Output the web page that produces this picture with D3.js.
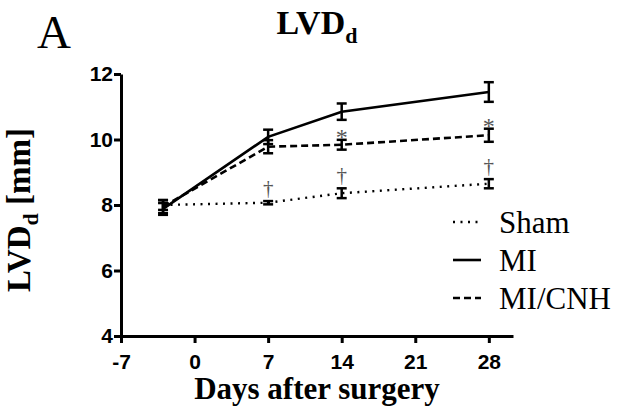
<!DOCTYPE html>
<html>
<head>
<meta charset="utf-8">
<script src="https://cdn.jsdelivr.net/npm/d3@7"></script>
<style>
  body { margin: 0; background: #fff; }
  .axis path, .axis line { stroke: #000; stroke-width: 3px; }
  .axis text { font-family: "Liberation Sans", Arial, sans-serif; font-weight: bold; font-size: 21px; fill: #000; }
</style>
</head>
<body>
<div id="chart-area"></div>
<script>
const days = [-3, 7, 14, 28];
const xTicks = [-7, 0, 7, 14, 21, 28];
const yTicks = [4, 6, 8, 10, 12];

const shamMean = [8.0, 8.07, 8.36, 8.65];
const shamErr = [0.15, 0.05, 0.15, 0.14];
const miMean = [7.88, 10.08, 10.85, 11.45];
const miErr = [0.18, 0.22, 0.25, 0.3];
const cnhMean = [7.95, 9.78, 9.84, 10.13];
const cnhErr = [0.2, 0.2, 0.15, 0.2];

const starDays = [14, 28];
const daggerDays = [7, 14, 28];

const series = [
  { name: "Sham", mean: shamMean, err: shamErr, dash: "2,5.5", width: 2.4 },
  { name: "MI", mean: miMean, err: miErr, dash: null, width: 2.6 },
  { name: "MI/CNH", mean: cnhMean, err: cnhErr, dash: "7,4", width: 2.6 }
];

const svg = d3
  .select("#chart-area")
  .append("svg")
  .attr("width", 618)
  .attr("height", 419);

const x = d3.scaleLinear().domain([-7, 30.3]).range([121, 513]);
const y = d3.scaleLinear().domain([4, 12]).range([336, 74]);

const serif = "'Liberation Serif', 'Times New Roman', serif";

// panel letter + title
svg.append("text")
  .attr("x", 37).attr("y", 48)
  .style("font-family", serif).style("font-size", "47px")
  .text("A");

const title = svg.append("text")
  .attr("x", 317).attr("y", 34)
  .attr("text-anchor", "middle")
  .style("font-family", serif).style("font-size", "34px").style("font-weight", "bold");
title.append("tspan").text("LVD");
title.append("tspan").attr("dy", 9).style("font-size", "22px").text("d");

// axes
svg.append("g")
  .attr("class", "axis")
  .attr("transform", "translate(0,336)")
  .call(d3.axisBottom(x).tickValues(xTicks).tickFormat(d => String(d))
    .tickSizeInner(7).tickSizeOuter(0).tickPadding(11));

svg.append("g")
  .attr("class", "axis")
  .attr("transform", "translate(121,0)")
  .call(d3.axisLeft(y).tickValues(yTicks).tickFormat(d => String(d))
    .tickSizeInner(7).tickSizeOuter(0).tickPadding(1));

// axis labels
svg.append("text")
  .attr("x", 317).attr("y", 399)
  .attr("text-anchor", "middle")
  .style("font-family", serif).style("font-size", "31px").style("font-weight", "bold")
  .text("Days after surgery");

const yl = svg.append("text")
  .attr("transform", "translate(30,210) rotate(-90)")
  .attr("text-anchor", "middle")
  .style("font-family", serif).style("font-size", "33px").style("font-weight", "bold");
yl.append("tspan").text("LVD");
yl.append("tspan").attr("dy", 8).style("font-size", "22px").text("d");
yl.append("tspan").attr("dy", -8).text(" [mm]");

// lines
const line = d3.line().x(d => x(d.day)).y(d => y(d.v));

series.forEach(s => {
  const pts = days.map((d, i) => ({ day: d, v: s.mean[i], e: s.err[i] }));
  svg.append("path")
    .datum(pts)
    .attr("d", line)
    .attr("fill", "none")
    .attr("stroke", "#000")
    .attr("stroke-width", s.width)
    .attr("stroke-dasharray", s.dash);

  const eb = svg.append("g").selectAll("g").data(pts).enter().append("g");
  eb.append("line")
    .attr("x1", d => x(d.day)).attr("x2", d => x(d.day))
    .attr("y1", d => y(d.v - d.e)).attr("y2", d => y(d.v + d.e))
    .attr("stroke", "#000").attr("stroke-width", 2.5);
  [-1, 1].forEach(sg => {
    eb.append("line")
      .attr("x1", d => x(d.day) - 5).attr("x2", d => x(d.day) + 5)
      .attr("y1", d => y(d.v + sg * d.e)).attr("y2", d => y(d.v + sg * d.e))
      .attr("stroke", "#000").attr("stroke-width", 2.5);
  });
});

// significance marks
svg.selectAll(".star").data(starDays).enter().append("text")
  .attr("x", d => x(d))
  .attr("y", d => y(cnhMean[days.indexOf(d)] + cnhErr[days.indexOf(d)]) + 5)
  .attr("text-anchor", "middle")
  .style("font-family", serif).style("font-size", "24px").style("fill", "#555")
  .text("*");

svg.selectAll(".dagger").data(daggerDays).enter().append("text")
  .attr("x", d => x(d))
  .attr("y", d => y(shamMean[days.indexOf(d)] + shamErr[days.indexOf(d)]) - 6)
  .attr("text-anchor", "middle")
  .style("font-family", serif).style("font-size", "21px").style("fill", "#555")
  .text("\u2020");

// legend
const legend = svg.append("g").selectAll("g").data(series).enter().append("g")
  .attr("transform", (d, i) => `translate(453,${222 + i * 38})`);
legend.append("line")
  .attr("x1", 0).attr("x2", 28).attr("y1", 0).attr("y2", 0)
  .attr("stroke", "#000").attr("stroke-width", d => d.width)
  .attr("stroke-dasharray", d => d.dash);
legend.append("text")
  .attr("x", 46).attr("y", 11)
  .style("font-family", serif).style("font-size", "31px")
  .text(d => d.name);
</script>
</body>
</html>
